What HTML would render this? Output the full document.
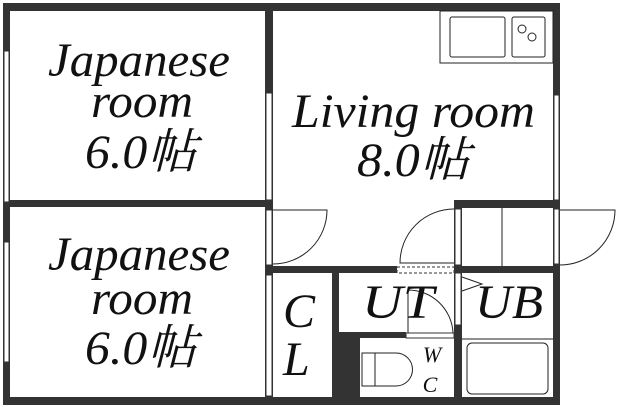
<!DOCTYPE html>
<html><head><meta charset="utf-8"><style>
html,body{margin:0;padding:0;background:#fff;width:619px;height:407px;overflow:hidden}
text{font-family:"Liberation Serif","Noto Serif CJK SC",serif;font-style:italic;fill:#111}
</style></head><body>
<svg width="619" height="407" viewBox="0 0 619 407" xmlns="http://www.w3.org/2000/svg">
<g fill="#333">
<rect x="3" y="3" width="557" height="8"/>
<rect x="3" y="3" width="7" height="402"/>
<rect x="3" y="397" width="557" height="8"/>
<rect x="553" y="3" width="7" height="402"/>
<rect x="265" y="3" width="8" height="270"/>
<rect x="3" y="200" width="270" height="7"/>
<rect x="265" y="266" width="132" height="7"/>
<rect x="454" y="266" width="106" height="7"/>
<rect x="454" y="200" width="106" height="8"/>
<rect x="454" y="200" width="8" height="205"/>
<rect x="265" y="266" width="8" height="139"/>
<rect x="332" y="266" width="7" height="139"/>
<rect x="332" y="332" width="28" height="73"/>
<rect x="332" y="332" width="74" height="6"/>
</g>
<g fill="#fff" stroke="#333" stroke-width="1">
<rect x="4" y="51" width="5" height="151"/>
<rect x="4" y="242" width="5" height="120"/>
<rect x="266" y="93" width="6" height="107"/>
<rect x="266" y="210" width="6" height="55"/>
<rect x="266" y="275" width="6" height="121"/>
<rect x="554" y="95" width="5" height="105"/>
<rect x="554" y="209" width="5" height="55"/>
<rect x="455" y="209" width="6" height="56"/>
<rect x="455" y="273" width="6" height="52"/>
<rect x="406" y="333" width="48" height="5"/>
<rect x="397" y="267" width="57" height="6" stroke-dasharray="3,2"/>
</g>
<g fill="none" stroke="#222" stroke-width="1">
<line x1="502" y1="208" x2="502" y2="266"/>
<path d="M273 210 H327 A54 54 0 0 1 273 264"/>
<path d="M454 263 H400 A54 54 0 0 1 454 209"/>
<path d="M560 210 H615 A55 55 0 0 1 560 265"/>
<path d="M408 333 V290 A45 45 0 0 1 453 333"/>
<path d="M462 277 L482 284 L462 291"/>
<line x1="462" y1="339" x2="553" y2="339"/>
<rect x="467" y="343" width="81" height="51" rx="5"/>
<rect x="362" y="353" width="13" height="33"/>
<path d="M375 353 H396 A16.5 16.5 0 0 1 396 386 H375"/>
<rect x="440" y="11" width="113" height="52"/>
<rect x="450" y="17" width="55" height="40" rx="2"/>
<rect x="512" y="17" width="33" height="40" rx="2"/>
<circle cx="522" cy="29" r="4"/>
<circle cx="532" cy="37" r="4"/>
</g>
<g font-size="48" lengthAdjust="spacingAndGlyphs">
<text x="48" y="76" textLength="182" lengthAdjust="spacingAndGlyphs">Japanese</text>
<text x="91" y="117" textLength="102" lengthAdjust="spacingAndGlyphs">room</text>
<text x="85" y="168" textLength="112" lengthAdjust="spacingAndGlyphs">6.0帖</text>
<text x="48" y="270" textLength="182" lengthAdjust="spacingAndGlyphs">Japanese</text>
<text x="91" y="314" textLength="102" lengthAdjust="spacingAndGlyphs">room</text>
<text x="85" y="364" textLength="112" lengthAdjust="spacingAndGlyphs">6.0帖</text>
<text x="292" y="127" textLength="243" lengthAdjust="spacingAndGlyphs">Living room</text>
<text x="357" y="176" textLength="113" lengthAdjust="spacingAndGlyphs">8.0帖</text>
<text x="283" y="327">C</text>
<text x="283" y="375">L</text>
<text x="362" y="318" textLength="72" lengthAdjust="spacingAndGlyphs">UT</text>
<text x="475" y="318" textLength="68" lengthAdjust="spacingAndGlyphs">UB</text>
</g>
<g font-size="22" text-anchor="middle">
<text x="432" y="362">W</text>
<text x="430" y="392">C</text>
</g>
</svg>
</body></html>
